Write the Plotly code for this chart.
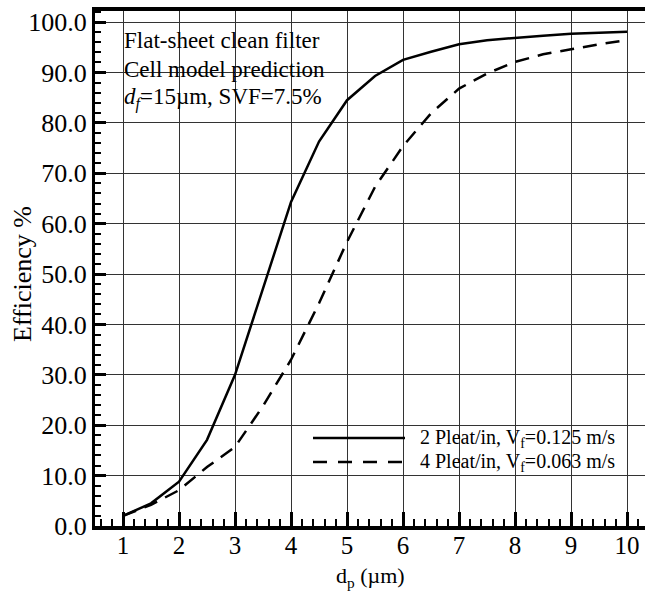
import plotly.graph_objects as go

# Particle diameter (um) and filtration efficiency (%) for the two pleat configurations
dp = [1.0, 1.5, 2.0, 2.5, 3.0, 3.5, 4.0, 4.5, 5.0, 5.5, 6.0, 6.5, 7.0, 7.5, 8.0, 8.5, 9.0, 9.5, 10.0]
eff_2pleat = [2.0, 4.5, 8.8, 17.1, 30.0, 47.2, 64.3, 76.3, 84.5, 89.3, 92.5, 94.1, 95.6, 96.4, 96.9, 97.3, 97.7, 97.9, 98.1]
eff_4pleat = [2.0, 4.2, 7.1, 11.7, 15.7, 23.8, 33.0, 44.2, 56.4, 67.3, 75.4, 81.9, 86.8, 89.8, 92.1, 93.6, 94.6, 95.6, 96.4]

name_2pleat = "2 Pleat/in, V<sub>f</sub>=0.125 m/s"
name_4pleat = "4 Pleat/in, V<sub>f</sub>=0.063 m/s"
note_lines = [
    "Flat-sheet clean filter",
    "Cell model prediction",
    "<i>d<sub>f</sub></i>=15\u00b5m, SVF=7.5%",
]

W, H = 645, 593
L, R, T, B = 95, 0, 11, 67
PW, PH = W - L - R, H - T - B

FONT = "Liberation Serif, Times New Roman, serif"


def px(x):
    return (x - L) / PW


def py(y):
    return (H - B - y) / PH


fig = go.Figure()
fig.add_trace(go.Scatter(x=dp, y=eff_2pleat, mode="lines", name=name_2pleat,
                         line=dict(color="black", width=2.5)))
fig.add_trace(go.Scatter(x=dp, y=eff_4pleat, mode="lines", name=name_4pleat,
                         line=dict(color="black", width=2.5, dash="14px,9px")))

shapes = [
    # white panel behind the note text
    dict(type="rect", xref="paper", yref="paper", x0=px(95), x1=px(333), y0=py(121), y1=py(11),
         fillcolor="white", line=dict(width=0), layer="between"),
    # white panel behind the legend
    dict(type="rect", xref="paper", yref="paper", x0=px(283), x1=px(642), y0=py(500), y1=py(388),
         fillcolor="white", line=dict(width=0), layer="between"),
    # legend line samples
    dict(type="line", xref="paper", yref="paper", x0=px(313), x1=px(405), y0=py(438), y1=py(438),
         line=dict(color="black", width=2.5)),
    dict(type="line", xref="paper", yref="paper", x0=px(313), x1=px(405), y0=py(462), y1=py(462),
         line=dict(color="black", width=2.5, dash="14px,11px")),
]

annotations = [
    dict(xref="paper", yref="paper", x=px(418), y=py(438), text=name_2pleat, showarrow=False,
         xanchor="left", yanchor="middle", font=dict(family=FONT, size=20, color="black")),
    dict(xref="paper", yref="paper", x=px(418), y=py(462), text=name_4pleat, showarrow=False,
         xanchor="left", yanchor="middle", font=dict(family=FONT, size=20, color="black")),
    dict(xref="paper", yref="paper", x=px(370), y=py(577), text="d<sub>p</sub> (\u00b5m)", showarrow=False,
         xanchor="center", yanchor="middle", font=dict(family=FONT, size=22, color="black")),
    dict(xref="paper", yref="paper", x=px(22), y=py(274), text="Efficiency %", showarrow=False,
         textangle=-90, xanchor="center", yanchor="middle", font=dict(family=FONT, size=26, color="black")),
]
for txt, yc in zip(note_lines, [40, 70, 98]):
    annotations.append(dict(xref="paper", yref="paper", x=px(122), y=py(yc), text=txt, showarrow=False,
                            xanchor="left", yanchor="middle",
                            font=dict(family=FONT, size=23, color="black")))

fig.update_layout(
    width=W, height=H,
    margin=dict(l=L, r=R, t=T, b=B, pad=0),
    paper_bgcolor="white", plot_bgcolor="white",
    showlegend=False,
    font=dict(family=FONT, size=24, color="black"),
    shapes=shapes, annotations=annotations,
    xaxis=dict(
        range=[0.5, 10.32], tick0=0, dtick=1, ticks="inside", ticklen=14, tickwidth=3,
        tickcolor="black", showline=True, linewidth=4, linecolor="black", mirror=True,
        showgrid=True, gridcolor="#333", gridwidth=1, zeroline=False,
        ticklabelstandoff=-6,
        tickfont=dict(family=FONT, size=25, color="black"),
        minor=dict(dtick=0.2, tick0=0, ticks="inside", ticklen=7, tickwidth=1.5,
                   tickcolor="black", showgrid=False),
    ),
    yaxis=dict(
        range=[0, 102.2], tick0=0, dtick=10, tickformat=".1f", ticks="inside", ticklen=11,
        tickwidth=3, tickcolor="black", showline=True, linewidth=3, linecolor="black",
        mirror=False, showgrid=True, gridcolor="#333", gridwidth=1, zeroline=False,
        tickfont=dict(family=FONT, size=26, color="black"),
        minor=dict(dtick=2, tick0=0, ticks="inside", ticklen=6, tickwidth=1.5,
                   tickcolor="black", showgrid=False),
    ),
)

fig.write_html("out.html")
